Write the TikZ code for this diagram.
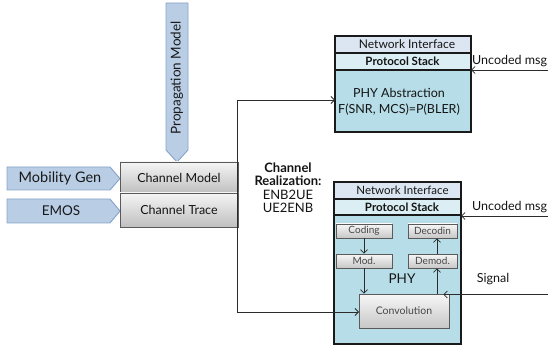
\documentclass[tikz,border=0pt]{standalone}
\usepackage{fontspec}
\setmainfont{Lato}
\usetikzlibrary{arrows.meta}

\definecolor{tagfill}{HTML}{B9CDE5}
\definecolor{tagline}{HTML}{86A3CB}
\definecolor{nifill}{HTML}{DCE6F2}
\definecolor{psfill}{HTML}{DAEEF3}
\definecolor{phyfill}{HTML}{B7DEE8}
\definecolor{boxline}{HTML}{1A1A1A}
\definecolor{greyline}{HTML}{5A5A5A}
\definecolor{wire}{HTML}{2B2B2B}

\tikzset{
  tag/.style={draw=tagline, fill=tagfill, line width=0.9pt, line join=round},
  tagtext/.style={font=\fontsize{13.5}{15}\selectfont, text=black!90, inner sep=0pt},
  greybox/.style={draw=greyline, line width=0.8pt, top color=white!96!black, bottom color=black!25},
  smallbox/.style={draw=greyline, line width=0.7pt, top color=white!97!black, bottom color=black!22},
  layer/.style={draw=boxline, line width=1.1pt},
  label/.style={inner sep=0pt, text=black!92},
  wireline/.style={draw=wire, line width=0.8pt},
  feed/.style={wireline, -{Straight Barb[length=3.5pt,width=7pt]}},
}

\begin{document}
\begin{tikzpicture}[x=1pt, y=-1pt]
\useasboundingbox (0,0) rectangle (548,347);

% ---- input tags on the left ----
\path[tag] (166,3) -- (188,3) -- (188,150) -- (177,162) -- (166,150) -- cycle;
\node[tagtext, rotate=90] (prop) at (177,78) {Propagation Model};

\path[tag] (7,167) -- (110,167) -- (120,178.5) -- (110,190) -- (7,190) -- cycle;
\node[tagtext, font=\fontsize{14.5}{16}\selectfont] (mob) at (60,178.5) {Mobility Gen};

\path[tag] (7,199) -- (110,199) -- (120,211) -- (110,223) -- (7,223) -- cycle;
\node[tagtext] (emos) at (61,211) {EMOS};

% ---- channel boxes ----
\path[greybox] (120,162) rectangle (238,193);
\node[label, font=\fontsize{12.5}{14}\selectfont] (chmodel) at (179,177.5) {Channel Model};
\path[greybox] (120,193) rectangle (238,227);
\node[label, font=\fontsize{12.5}{14}\selectfont] (chtrace) at (179,210) {Channel Trace};

% ---- realization label ----
\node[label, font=\fontsize{13}{14}\selectfont, align=center] (real) at (288,187.5)
  {\textbf{Channel}\\[-0.5pt]\textbf{Realization:}\\[-0.5pt]ENB2UE\\[-0.5pt]UE2ENB};

% ---- upper node: abstracted PHY ----
\path[layer, fill=nifill] (335,36) rectangle (471,53);
\node[label, font=\fontsize{12}{13}\selectfont] (ni1) at (407,44.5) {Network Interface};
\path[layer, fill=psfill] (335,53) rectangle (471,70);
\node[label, font=\fontsize{11.5}{13}\selectfont\bfseries] (ps1) at (402.5,61.5) {Protocol Stack};
\path[layer, fill=phyfill] (335,70) rectangle (471,132);
\node[label, font=\fontsize{12.5}{16}\selectfont, align=center] (phyabs) at (399,102)
  {PHY Abstraction\\F(SNR, MCS)=P(BLER)};
\coordinate (phyin) at (335,100);

\node[label, anchor=west, font=\fontsize{12.5}{14}\selectfont] (msg1) at (472,61) {Uncoded msg};
\coordinate (msg1src) at (548,70);

% ---- lower node: full PHY chain ----
\path[layer, fill=nifill] (334,182) rectangle (461,199);
\node[label, font=\fontsize{11.5}{13}\selectfont] (ni2) at (402.5,190.5) {Network Interface};
\path[layer, fill=psfill] (334,199) rectangle (461,215);
\node[label, font=\fontsize{11.5}{13}\selectfont\bfseries] (ps2) at (402,207) {Protocol Stack};
\path[layer, fill=phyfill] (334,215) rectangle (461,344);

\node[smallbox, minimum width=56pt, minimum height=14pt, inner sep=0pt,
      font=\fontsize{10}{11}\selectfont, text=black!72] (coding) at (364,231) {Coding};
\node[smallbox, minimum width=49pt, minimum height=14pt, inner sep=0pt,
      font=\fontsize{10}{11}\selectfont, text=black!72] (decod) at (432.5,231) {Decodin};
\node[smallbox, minimum width=56pt, minimum height=14pt, inner sep=0pt,
      font=\fontsize{10}{11}\selectfont, text=black!72] (mod) at (364,261) {Mod.};
\node[smallbox, minimum width=49pt, minimum height=14pt, inner sep=0pt,
      font=\fontsize{10}{11}\selectfont, text=black!72] (demod) at (432.5,261) {Demod.};
\node[label, font=\fontsize{13.5}{14}\selectfont] (phy) at (402,279) {PHY};
\node[smallbox, minimum width=90pt, minimum height=34pt, inner sep=0pt,
      font=\fontsize{10.5}{12}\selectfont, text=black!72] (conv) at (404,311) {Convolution};

\draw[feed] (coding.south) -- (mod.north);
\draw[feed] (mod.south) -- (mod.south |- conv.north);
\draw[feed] ([xshift=4.5pt]demod.south |- conv.north) -- ([xshift=4.5pt]demod.south);
\draw[feed] ([xshift=4.5pt]demod.north) -- ([xshift=4.5pt]decod.south);

\node[label, anchor=west, font=\fontsize{12.5}{14}\selectfont] (msg2) at (472,207) {Uncoded msg};
\coordinate (msg2src) at (548,216);
\node[label, font=\fontsize{12.5}{14}\selectfont] (sig) at (493,279) {Signal};
\coordinate (sigsrc) at (548,294.5);
\coordinate (convin) at (359,312);

% ---- connectors ----
\coordinate (jtop) at (237,100);
\coordinate (jbot) at (237,312);
\draw[wireline] (jtop) -- (jbot);
\draw[feed] (jtop) -- (phyin);
\draw[feed] (jbot) -- (convin);
\draw[feed] (msg1src) -- (471,70);
\draw[feed] (msg2src) -- (461,216);
\draw[feed] (sigsrc) -- ([xshift=-6pt]conv.north east |- sigsrc);
\end{tikzpicture}
\end{document}
